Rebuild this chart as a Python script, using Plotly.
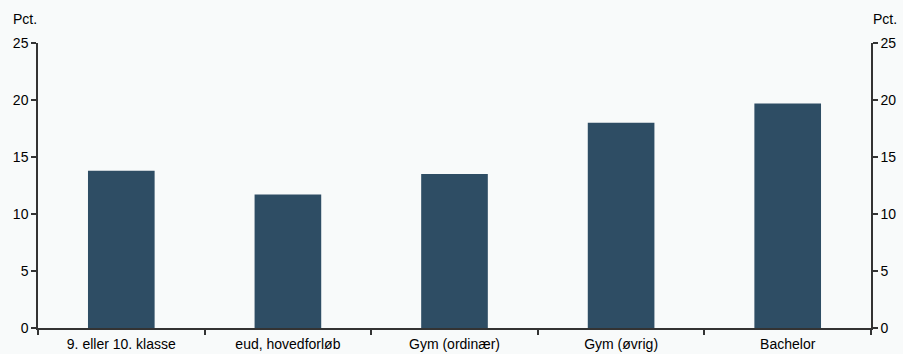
import plotly.graph_objects as go

categories = ["9. eller 10. klasse", "eud, hovedforløb", "Gym (ordinær)", "Gym (øvrig)", "Bachelor"]
values = [13.8, 11.7, 13.5, 18.0, 19.7]
y_ticks = [0, 5, 10, 15, 20, 25]

bg = "#f8fafa"
axis_col = "#333333"
font = dict(family="Liberation Sans, Arial, sans-serif", size=14, color="#000000")

fig = go.Figure()
fig.add_trace(go.Bar(x=categories, y=values, marker=dict(color="#2e4d64", line=dict(width=0)),
                     showlegend=False, hoverinfo="x+y"))
fig.add_trace(go.Scatter(x=categories, y=values, yaxis="y2", mode="markers",
                         marker=dict(opacity=0), showlegend=False, hoverinfo="skip"))

axis_common = dict(showgrid=False, showline=True, linecolor=axis_col, linewidth=1.5,
                   ticks="outside", ticklen=5, tickwidth=1.5, tickcolor=axis_col,
                   zeroline=False, automargin=False)

fig.update_layout(
    width=903, height=354,
    margin=dict(l=38, r=32, t=43, b=26, autoexpand=False),
    paper_bgcolor=bg, plot_bgcolor=bg,
    font=font,
    bargap=0.6,
    xaxis=dict(**axis_common, tickson="boundaries", ticklabelstandoff=2),
    yaxis=dict(**axis_common, range=[0, 25], tickvals=y_ticks),
    yaxis2=dict(**axis_common, range=[0, 25], tickvals=y_ticks, overlaying="y", side="right"),
    annotations=[
        dict(text="Pct.", xref="paper", yref="paper", x=0, y=1, xshift=-27, yshift=14,
             xanchor="left", yanchor="bottom", showarrow=False, font=font),
        dict(text="Pct.", xref="paper", yref="paper", x=1, y=1, xshift=28, yshift=14,
             xanchor="right", yanchor="bottom", showarrow=False, font=font),
    ],
)

fig.write_html("out.html", config={"displayModeBar": False},
               post_script="document.body.style.margin='0';document.body.style.background='%s';" % bg)
